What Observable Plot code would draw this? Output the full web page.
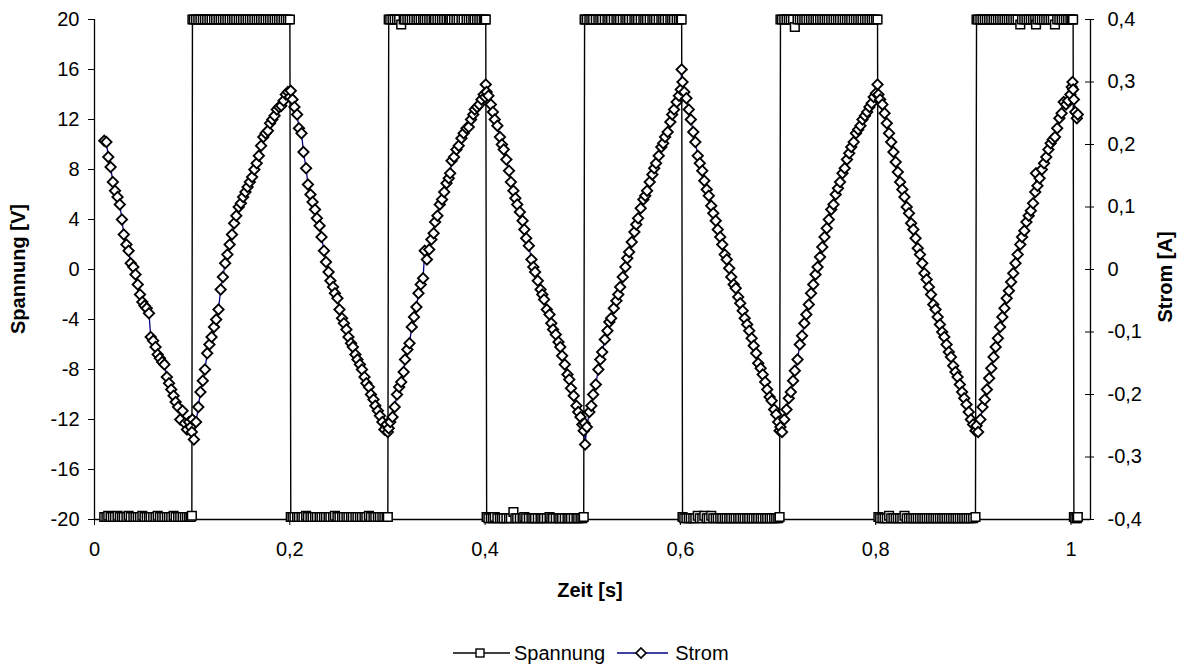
<!DOCTYPE html>
<html>
<head>
<meta charset="utf-8">
<script src="https://cdn.jsdelivr.net/npm/d3@7"></script>
<script src="https://cdn.jsdelivr.net/npm/@observablehq/plot@0.6"></script>
<style>
  html, body { margin: 0; padding: 0; background: #fff; }
  #wrap { position: relative; width: 1180px; height: 667px; font-family: "Liberation Sans", Arial, sans-serif; color: #000; }
  #chart svg { display: block; }
  .title { position: absolute; font-weight: bold; font-size: 20px; white-space: nowrap; }
  #legend { position: absolute; left: 453px; top: 642px; height: 22px; display: flex; align-items: center; font-size: 20px; white-space: nowrap; }
  #legend svg { display: block; }
</style>
</head>
<body>
<div id="wrap">
  <div id="chart"></div>
  <div class="title" id="ylab" style="left:18px; top:269px; transform: translate(-50%,-50%) rotate(-90deg);">Spannung [V]</div>
  <div class="title" id="y2lab" style="left:1165px; top:277px; transform: translate(-50%,-50%) rotate(-90deg);">Strom [A]</div>
  <div class="title" id="xlab" style="left:590px; top:590px; transform: translate(-50%,-50%);">Zeit [s]</div>
  <div id="legend">
    <svg width="58" height="20"><line x1="0" y1="10" x2="57" y2="10" stroke="#000" stroke-width="1.3"/><rect x="23" y="6" width="8" height="8" fill="#fff" stroke="#000" stroke-width="1.4"/></svg>
    <span style="margin-left:3px;">Spannung</span>
    <svg width="52" height="20" style="margin-left:12px;"><line x1="0" y1="10" x2="51" y2="10" stroke="#000080" stroke-width="1.3"/><path d="M24,5 L29,10 L24,15 L19,10 Z" fill="#fff" stroke="#000" stroke-width="1.7"/></svg>
    <span style="margin-left:6px;">Strom</span>
  </div>
</div>
<script>
// Zeit [s]
const zeit = [
  0.0100,0.0122,0.0141,0.0165,0.0188,0.0210,0.0236,0.0259,0.0281,0.0300,0.0327,0.0349,0.0371,0.0398,0.0420,0.0443,0.0466,0.0490,0.0512,0.0535,0.0558,0.0576,0.0601,0.0625,0.0647,0.0670,0.0693,0.0716,0.0741,0.0763,0.0786,0.0810,0.0831,0.0856,0.0878,0.0902,0.0925,0.0947,0.0969,0.0985,0.0997,
  0.1003,0.1018,0.1040,0.1063,0.1085,0.1109,0.1131,0.1154,0.1177,0.1199,0.1224,0.1246,0.1270,0.1292,0.1315,0.1338,0.1361,0.1384,0.1408,0.1430,0.1452,0.1477,0.1499,0.1522,0.1546,0.1568,0.1591,0.1614,0.1637,0.1661,0.1683,0.1706,0.1729,0.1752,0.1776,0.1798,0.1821,0.1844,0.1867,0.1890,0.1913,0.1936,0.1959,0.1981,0.2001,
  0.2010,0.2028,0.2048,0.2075,0.2094,0.2120,0.2140,0.2167,0.2186,0.2212,0.2233,0.2258,0.2278,0.2305,0.2325,0.2350,0.2371,0.2397,0.2416,0.2443,0.2462,0.2488,0.2509,0.2535,0.2554,0.2580,0.2601,0.2627,0.2646,0.2672,0.2693,0.2718,0.2739,0.2765,0.2784,0.2810,0.2831,0.2857,0.2876,0.2902,0.2923,0.2948,0.2969,0.2991,0.3004,
  0.3013,0.3029,0.3052,0.3074,0.3098,0.3120,0.3141,0.3166,0.3180,0.3204,0.3226,0.3249,0.3272,0.3297,0.3318,0.3341,0.3365,0.3382,0.3404,0.3428,0.3450,0.3473,0.3488,0.3512,0.3536,0.3559,0.3581,0.3605,0.3628,0.3642,0.3657,0.3682,0.3707,0.3730,0.3758,0.3780,0.3810,0.3833,0.3856,0.3879,0.3894,0.3918,0.3941,0.3963,0.3986,0.4000,0.4007,
  0.4016,0.4034,0.4059,0.4080,0.4099,0.4126,0.4152,0.4172,0.4191,0.4218,0.4245,0.4264,0.4290,0.4310,0.4329,0.4356,0.4384,0.4402,0.4421,0.4448,0.4475,0.4494,0.4512,0.4540,0.4568,0.4586,0.4604,0.4632,0.4660,0.4678,0.4696,0.4724,0.4752,0.4770,0.4789,0.4816,0.4844,0.4862,0.4880,0.4908,0.4936,0.4954,0.4977,0.4996,0.5010,
  0.5019,0.5024,0.5042,0.5068,0.5088,0.5107,0.5134,0.5160,0.5180,0.5199,0.5226,0.5253,0.5272,0.5291,0.5318,0.5345,0.5364,0.5383,0.5410,0.5437,0.5456,0.5475,0.5502,0.5529,0.5548,0.5567,0.5594,0.5621,0.5640,0.5659,0.5686,0.5713,0.5732,0.5751,0.5778,0.5805,0.5824,0.5843,0.5870,0.5897,0.5916,0.5935,0.5962,0.5985,0.6004,0.6013,
  0.6022,0.6040,0.6062,0.6086,0.6107,0.6132,0.6153,0.6178,0.6199,0.6224,0.6245,0.6270,0.6291,0.6316,0.6337,0.6362,0.6383,0.6408,0.6429,0.6454,0.6475,0.6500,0.6521,0.6546,0.6567,0.6592,0.6613,0.6638,0.6659,0.6684,0.6705,0.6730,0.6751,0.6776,0.6797,0.6822,0.6843,0.6868,0.6889,0.6914,0.6935,0.6960,0.6981,0.7002,0.7016,
  0.7025,0.7041,0.7064,0.7087,0.7110,0.7131,0.7154,0.7172,0.7200,0.7223,0.7246,0.7269,0.7290,0.7315,0.7338,0.7361,0.7384,0.7405,0.7430,0.7453,0.7476,0.7499,0.7520,0.7545,0.7568,0.7591,0.7614,0.7635,0.7660,0.7683,0.7706,0.7729,0.7750,0.7775,0.7798,0.7821,0.7844,0.7865,0.7890,0.7913,0.7936,0.7959,0.7980,0.8003,0.8019,
  0.8028,0.8046,0.8069,0.8091,0.8114,0.8137,0.8159,0.8182,0.8205,0.8227,0.8250,0.8273,0.8295,0.8318,0.8341,0.8363,0.8386,0.8409,0.8431,0.8454,0.8477,0.8499,0.8522,0.8545,0.8567,0.8590,0.8613,0.8635,0.8658,0.8681,0.8703,0.8726,0.8749,0.8771,0.8794,0.8817,0.8839,0.8862,0.8885,0.8907,0.8930,0.8953,0.8975,0.8998,0.9022,
  0.9033,0.9049,0.9072,0.9094,0.9117,0.9139,0.9162,0.9184,0.9207,0.9229,0.9252,0.9274,0.9297,0.9319,0.9342,0.9364,0.9387,0.9409,0.9432,0.9454,0.9481,0.9499,0.9522,0.9544,0.9567,0.9589,0.9612,0.9634,0.9642,0.9657,0.9679,0.9702,0.9724,0.9747,0.9769,0.9792,0.9814,0.9836,0.9859,0.9881,0.9904,0.9926,0.9949,0.9971,0.9994,1.0008,1.0016,
  1.0022,1.0030,1.0044,1.0060,1.0070
];
// Spannung [V]
const spannung = [
  -19.8,-19.8,-19.7,-19.8,-19.8,-19.8,-19.7,-19.8,-19.8,-19.8,-19.8,-19.7,-19.8,-19.8,-19.8,-19.8,-19.8,-19.7,-19.8,-19.8,-19.8,-19.8,-19.8,-19.8,-19.7,-19.8,-19.8,-19.8,-19.8,-19.8,-19.8,-19.7,-19.8,-19.8,-19.8,-19.8,-19.8,-19.8,-19.8,-19.8,-19.7,
  20,20,20,20,20,20,20,20,20,20,20,20,20,20,20,20,20,20,20,20,20,20,20,20,20,20,20,20,20,20,20,20,20,20,20,20,20,20,20,20,20,20,20,20,20,
  -19.8,-19.8,-19.8,-19.8,-19.8,-19.8,-19.8,-19.7,-19.8,-19.8,-19.8,-19.8,-19.8,-19.8,-19.8,-19.8,-19.8,-19.8,-19.8,-19.8,-19.7,-19.8,-19.8,-19.8,-19.8,-19.8,-19.8,-19.8,-19.8,-19.8,-19.8,-19.8,-19.8,-19.8,-19.8,-19.7,-19.8,-19.8,-19.8,-19.8,-19.8,-19.8,-19.8,-19.8,-19.8,
  20,20,20,20,20,20,19.6,20,20,20,20,20,20,20,20,20,20,20,20,20,20,20,20,20,20,20,20,20,20,20,20,20,20,20,20,20,20,20,20,20,20,20,20,20,20,20,20,
  -19.8,-19.9,-19.9,-19.9,-19.8,-19.9,-19.9,-19.9,-19.9,-19.9,-19.9,-19.9,-19.4,-19.9,-19.9,-19.9,-19.9,-19.8,-19.9,-19.9,-19.9,-19.9,-19.9,-19.9,-19.9,-19.9,-19.9,-19.9,-19.8,-19.9,-19.9,-19.9,-19.9,-19.9,-19.9,-19.9,-19.9,-19.9,-19.9,-19.9,-19.9,-19.9,-19.9,-19.9,-19.8,
  20,20,20,20,20,20,20,20,20,20,20,20,20,20,20,20,20,20,20,20,20,20,20,20,20,20,20,20,20,20,20,20,20,20,20,20,20,20,20,20,20,20,20,20,20,20,
  -19.8,-19.9,-19.9,-19.9,-19.9,-19.9,-19.9,-19.7,-19.9,-19.9,-19.7,-19.9,-19.9,-19.7,-19.9,-19.9,-19.9,-19.9,-19.9,-19.9,-19.9,-19.9,-19.9,-19.9,-19.9,-19.9,-19.9,-19.9,-19.9,-19.9,-19.9,-19.9,-19.9,-19.9,-19.9,-19.9,-19.9,-19.9,-19.9,-19.9,-19.9,-19.9,-19.9,-19.9,-19.8,
  20,20,20,20,20,20,20,19.4,20,20,20,20,20,20,20,20,20,20,20,20,20,20,20,20,20,20,20,20,20,20,20,20,20,20,20,20,20,20,20,20,20,20,20,20,20,
  -19.8,-19.9,-19.9,-19.9,-19.9,-19.7,-19.9,-19.9,-19.9,-19.9,-19.9,-19.9,-19.7,-19.9,-19.9,-19.9,-19.9,-19.9,-19.9,-19.9,-19.9,-19.9,-19.9,-19.9,-19.9,-19.9,-19.9,-19.9,-19.9,-19.9,-19.9,-19.9,-19.9,-19.9,-19.9,-19.9,-19.9,-19.9,-19.9,-19.9,-19.9,-19.9,-19.9,-19.9,-19.8,
  20,20,20,20,20,20,20,20,20,20,20,20,20,20,20,20,20,20,20,20,19.6,20,20,20,20,20,20,20,19.6,20,20,20,20,20,20,20,20,19.6,20,20,20,20,20,20,20,20,20,
  20,-19.8,-19.9,-19.9,-19.8
];
// Strom [A]
const strom = [
  0.206,0.204,0.180,0.164,0.140,0.126,0.116,0.104,0.080,0.056,0.040,0.030,0.010,0.004,-0.008,-0.024,-0.040,-0.052,-0.058,-0.062,-0.070,-0.108,-0.114,-0.124,-0.136,-0.142,-0.148,-0.152,-0.172,-0.182,-0.192,-0.202,-0.212,-0.220,-0.240,-0.226,-0.246,-0.256,-0.244,-0.252,-0.260,
  -0.240,-0.272,-0.244,-0.220,-0.196,-0.178,-0.160,-0.134,-0.120,-0.108,-0.092,-0.080,-0.064,-0.032,-0.012,0.010,0.024,0.040,0.056,0.074,0.086,0.100,0.106,0.116,0.124,0.132,0.140,0.148,0.160,0.170,0.182,0.198,0.212,0.218,0.222,0.234,0.240,0.246,0.256,0.260,0.262,0.270,0.280,0.284,0.276,
  0.286,0.272,0.260,0.248,0.226,0.218,0.188,0.162,0.136,0.120,0.108,0.096,0.082,0.070,0.052,0.030,0.012,-0.004,-0.018,-0.028,-0.038,-0.046,-0.064,-0.078,-0.086,-0.096,-0.108,-0.118,-0.124,-0.136,-0.144,-0.152,-0.160,-0.172,-0.182,-0.188,-0.200,-0.208,-0.218,-0.226,-0.234,-0.244,-0.256,-0.248,-0.260,
  -0.254,-0.244,-0.236,-0.220,-0.200,-0.188,-0.180,-0.164,-0.144,-0.128,-0.118,-0.092,-0.076,-0.060,-0.038,-0.024,-0.014,0.030,0.016,0.032,0.048,0.058,0.076,0.086,0.104,0.112,0.124,0.138,0.146,0.154,0.174,0.180,0.192,0.198,0.210,0.218,0.226,0.228,0.240,0.248,0.256,0.260,0.264,0.272,0.280,0.276,0.296,
  0.284,0.278,0.264,0.252,0.240,0.230,0.212,0.200,0.192,0.176,0.158,0.140,0.126,0.114,0.104,0.092,0.078,0.064,0.050,0.038,0.016,0.004,-0.004,-0.018,-0.032,-0.040,-0.048,-0.064,-0.072,-0.086,-0.096,-0.104,-0.116,-0.124,-0.138,-0.152,-0.168,-0.176,-0.190,-0.202,-0.218,-0.228,-0.236,-0.248,-0.258,
  -0.246,-0.280,-0.252,-0.228,-0.218,-0.200,-0.184,-0.160,-0.144,-0.132,-0.112,-0.098,-0.084,-0.078,-0.062,-0.050,-0.040,-0.028,-0.012,0.004,0.018,0.028,0.044,0.060,0.072,0.082,0.098,0.112,0.118,0.126,0.140,0.152,0.162,0.170,0.182,0.196,0.202,0.212,0.220,0.236,0.248,0.256,0.268,0.278,0.288,0.320,
  0.300,0.284,0.274,0.256,0.240,0.220,0.204,0.182,0.170,0.158,0.142,0.128,0.118,0.102,0.090,0.078,0.064,0.052,0.040,0.024,0.016,0.002,-0.012,-0.024,-0.030,-0.044,-0.054,-0.066,-0.078,-0.088,-0.098,-0.110,-0.122,-0.134,-0.150,-0.158,-0.168,-0.180,-0.192,-0.204,-0.210,-0.224,-0.232,-0.244,-0.258,
  -0.252,-0.260,-0.240,-0.224,-0.206,-0.196,-0.178,-0.162,-0.144,-0.120,-0.106,-0.086,-0.072,-0.056,-0.038,-0.024,-0.008,0.004,0.020,0.036,0.052,0.066,0.080,0.096,0.104,0.120,0.130,0.140,0.154,0.162,0.176,0.186,0.196,0.204,0.218,0.224,0.230,0.240,0.246,0.252,0.260,0.266,0.276,0.282,0.296,
  0.280,0.272,0.264,0.250,0.234,0.218,0.204,0.188,0.172,0.156,0.140,0.128,0.116,0.100,0.090,0.074,0.064,0.050,0.034,0.024,0.010,-0.006,-0.016,-0.028,-0.040,-0.056,-0.064,-0.076,-0.088,-0.100,-0.108,-0.120,-0.132,-0.140,-0.154,-0.164,-0.172,-0.184,-0.196,-0.206,-0.216,-0.228,-0.240,-0.248,-0.258,
  -0.250,-0.260,-0.240,-0.220,-0.208,-0.192,-0.174,-0.158,-0.140,-0.124,-0.110,-0.092,-0.076,-0.062,-0.046,-0.034,-0.020,-0.006,0.010,0.024,0.040,0.052,0.062,0.076,0.086,0.094,0.106,0.124,0.154,0.134,0.146,0.160,0.170,0.180,0.192,0.202,0.208,0.212,0.226,0.242,0.250,0.268,0.264,0.270,0.280,0.292,0.300,
  0.288,0.272,0.252,0.242,0.248
];
// Achsen
const xTicks = [0, 0.2, 0.4, 0.6, 0.8, 1];
const spannungTicks = [-20, -16, -12, -8, -4, 0, 4, 8, 12, 16, 20];
const stromTicks = [-0.4, -0.3, -0.2, -0.1, 0, 0.1, 0.2, 0.3, 0.4];
const xMax = 1.02;
const stromFaktor = 50; // 0,4 A entspricht 20 V

const rows = zeit.map((t, k) => ({t, u: spannung[k], a: strom[k]}));
const komma = v => String(v).replace(".", ",");

const chart = Plot.plot({
  width: 1180,
  height: 625,
  marginTop: 19,
  marginLeft: 94,
  marginRight: 90,
  marginBottom: 106,
  x: {domain: [0, xMax]},
  y: {domain: [-20, 20]},
  style: {fontFamily: "'Liberation Sans', Arial, sans-serif", fontSize: "20px", color: "#000", background: "#fff", overflow: "visible"},
  marks: [
    Plot.ruleX([0, xMax], {stroke: "#000", strokeWidth: 1.3}),
    Plot.ruleY([-20], {stroke: "#000", strokeWidth: 1.3}),
    Plot.axisX({ticks: xTicks, tickFormat: komma, tickSize: 6, tickPadding: 16, label: null, stroke: "#000"}),
    Plot.axisY({ticks: spannungTicks, tickFormat: d => String(d), tickSize: 6, tickPadding: 9, label: null}),
    Plot.axisY({anchor: "right", ticks: stromTicks.map(a => a * stromFaktor), tickFormat: v => {
      const a = Math.round(v / stromFaktor * 10) / 10;
      return a === 0 ? "0" : komma(a);
    }, tickSize: 9, dx: -6, tickPadding: 14, label: null}),
    Plot.line(rows, {x: "t", y: "u", stroke: "#000", strokeWidth: 1.4}),
    Plot.dot(rows, {x: "t", y: "u", symbol: "square", r: 4.9, fill: "#fff", stroke: "#000", strokeWidth: 1.5}),
    Plot.line(rows, {x: "t", y: d => d.a * stromFaktor, stroke: "#000080", strokeWidth: 1.3}),
    Plot.dot(rows, {x: "t", y: d => d.a * stromFaktor, symbol: "diamond2", r: 4.7, fill: "#fff", stroke: "#000", strokeWidth: 1.8})
  ]
});
document.getElementById("chart").appendChild(chart);
</script>
</body>
</html>
